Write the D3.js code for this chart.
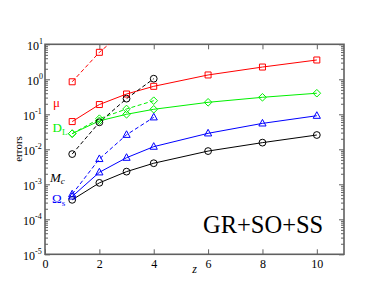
<!DOCTYPE html>
<html>
<head>
<meta charset="utf-8">
<script src="https://cdn.jsdelivr.net/npm/d3@7"></script>
<style>
	body { margin:0; background:#fff; }
</style>
</head>
<body>
<svg id="chart" width="387" height="299"></svg>
<script>

//------------------------------------------------------------------
// data
//------------------------------------------------------------------
var zFull   = [1, 2, 3, 4, 6, 8, 10],
		zShort  = [1, 2, 3, 4],
		zMuDash = [1, 2, 3];

var muSolid = [0.062, 0.19, 0.38, 0.63, 1.33, 2.24, 3.56],
		muDash  = [0.85, 5.9, 27],
		dlSolid = [0.028, 0.065, 0.10, 0.139, 0.22, 0.306, 0.40],
		dlDash  = [0.028, 0.075, 0.142, 0.245],
		mcSolid = [3.6e-4, 1.1e-3, 2.3e-3, 4.0e-3, 8.9e-3, 0.0155, 0.0256],
		mcDash  = [0.0073, 0.059, 0.28, 1.04],
		omSolid = [4.5e-4, 2.2e-3, 5.75e-3, 0.0119, 0.0286, 0.055, 0.091],
		omDash  = [5.2e-4, 5.3e-3, 0.026, 0.082];

var xTickVals = [0, 2, 4, 6, 8, 10],
		yExps     = [1, 0, -1, -2, -3, -4, -5];

var GREEN = '#00f000';

var series = [
	{ z:zMuDash, v:muDash,  color:'#ff0000', dash:true,  sym:'square'   },
	{ z:zFull,   v:muSolid, color:'#ff0000', dash:false, sym:'square'   },
	{ z:zShort,  v:dlDash,  color:GREEN,     dash:true,  sym:'diamond'  },
	{ z:zFull,   v:dlSolid, color:GREEN,     dash:false, sym:'diamond'  },
	{ z:zShort,  v:mcDash,  color:'#000000', dash:true,  sym:'circle'   },
	{ z:zFull,   v:mcSolid, color:'#000000', dash:false, sym:'circle'   },
	{ z:zShort,  v:omDash,  color:'#0000ff', dash:true,  sym:'triangle' },
	{ z:zFull,   v:omSolid, color:'#0000ff', dash:false, sym:'triangle' },
];

//------------------------------------------------------------------
// layout
//------------------------------------------------------------------
var m = { l:45, t:44.3, r:344, b:254.3 },
		x = d3.scaleLinear().domain([0, 11]).range([m.l, m.r]),
		y = d3.scaleLog().domain([1e-5, 10]).range([m.b, m.t]);

var FONT = 'Liberation Serif, Times New Roman, DejaVu Serif, serif';
var svg = d3.select('#chart').attr('font-family', FONT);
var frameCol = '#606060';

svg.append('defs').append('clipPath').attr('id','clip')
	.append('rect')
		.attr('x', m.l).attr('y', m.t)
		.attr('width', m.r - m.l).attr('height', m.b - m.t);

// minor y ticks
var minors = [];
yExps.slice(1).forEach(e=>{ for (var k=2;k<10;k++) minors.push(k*Math.pow(10,e)); });

function styleAxis(g)	{
	g.attr('font-family', FONT);
	g.select('.domain').remove();
	g.selectAll('.tick line').attr('stroke', frameCol).attr('stroke-width', 1);
}

svg.append('g').attr('transform','translate('+m.l+',0)')
	.call(d3.axisLeft(y).tickValues(minors).tickSize(-3).tickFormat(''))
	.call(styleAxis);
svg.append('g').attr('transform','translate('+m.r+',0)')
	.call(d3.axisRight(y).tickValues(minors).tickSize(-3).tickFormat(''))
	.call(styleAxis);
svg.append('g').attr('transform','translate('+m.r+',0)')
	.call(d3.axisRight(y).tickValues(yExps.map(e=>Math.pow(10,e))).tickSize(-5).tickFormat(''))
	.call(styleAxis);

// left major ticks with 10^n labels
svg.append('g').attr('transform','translate('+m.l+',0)')
	.call(d3.axisLeft(y).tickValues(yExps.map(e=>Math.pow(10,e))).tickSize(-5).tickFormat(''))
	.call(styleAxis)
	.call(g=>{
		g.selectAll('.tick').each(function(d){
			var e  = Math.round(Math.log10(d)),
					xx = e < 0 ? -10 : -6;
			d3.select(this).append('text')
				.attr('fill','#000').attr('text-anchor','end')
				.attr('font-family', FONT).attr('font-size', 12)
				.attr('x', xx).attr('y', 5)
				.text('10');
			d3.select(this).append('text')
				.attr('fill','#000').attr('text-anchor','start')
				.attr('font-family', FONT).attr('font-size', 8)
				.attr('x', xx).attr('y', -1)
				.text(e < 0 ? '-' + (-e) : e);
		});
	});

// x axes
svg.append('g').attr('transform','translate(0,'+m.b+')')
	.call(d3.axisBottom(x).tickValues(xTickVals).tickSize(-5).tickPadding(3).tickFormat(d3.format('d')))
	.call(styleAxis)
	.call(g=>g.selectAll('.tick text').attr('font-size',12).attr('fill','#000')
		.attr('font-family', FONT).attr('dy','0.9em'));
svg.append('g').attr('transform','translate(0,'+m.t+')')
	.call(d3.axisTop(x).tickValues(xTickVals).tickSize(-5).tickFormat(''))
	.call(styleAxis);

// frame
svg.append('rect')
	.attr('x', m.l).attr('y', m.t)
	.attr('width', m.r - m.l).attr('height', m.b - m.t)
	.attr('fill','none').attr('stroke', frameCol).attr('stroke-width', 1.6);

//------------------------------------------------------------------
// series
//------------------------------------------------------------------
var plot = svg.append('g').attr('clip-path','url(#clip)');
var line = d3.line().x(d=>x(d[0])).y(d=>y(d[1]));

series.forEach(s=>{
	var pts = s.z.map((z,i)=>[z, s.v[i]]);
	plot.append('path')
		.attr('d', line(pts))
		.attr('fill','none')
		.attr('stroke', s.color)
		.attr('stroke-width', 1)
		.attr('stroke-dasharray', s.dash ? '4,2.5' : null);
});

var symPath = {
	square:   'M-3,-3H3V3H-3Z',
	circle:   'M3.4,0A3.4,3.4,0,1,1,-3.4,0A3.4,3.4,0,1,1,3.4,0Z',
	diamond:  'M0,-3.8L3.8,0L0,3.8L-3.8,0Z',
	triangle: 'M0,-4L3.6,2.6L-3.6,2.6Z',
};

series.forEach(s=>{
	var pts = s.z.map((z,i)=>[z, s.v[i]]);
	plot.selectAll(null).data(pts).enter().append('path')
		.attr('transform', d=>'translate('+x(d[0])+','+y(d[1])+')')
		.attr('d', symPath[s.sym])
		.attr('fill','none')
		.attr('stroke', s.color)
		.attr('stroke-width', 1);
});

//------------------------------------------------------------------
// labels
//------------------------------------------------------------------
function lbl(xp, yp, col, main, sub, dy, italic)	{
	svg.append('text').attr('x',xp).attr('y',yp).attr('fill',col)
		.attr('font-family', FONT).attr('font-size',13)
		.attr('font-style', italic ? 'italic' : null)
		.call(t=>{
			t.append('tspan').text(main);
			if (sub) t.append('tspan').attr('font-size',9).attr('dy',dy).text(sub);
		});
}

lbl(53,   107, '#ff0000', '\u03bc');
lbl(52.5, 132, GREEN,     'D', 'L', 3);
lbl(50,   182, '#000000', 'M', 'c', 2, true);
lbl(52,   203, '#0000ff', '\u03a9', 's', 3);

svg.append('text')
	.attr('transform','translate(22,149) rotate(-90)')
	.attr('text-anchor','middle').attr('font-size',11).attr('fill','#000')
	.attr('font-family', FONT)
	.text('errors');

svg.append('text')
	.attr('x', x(5.5)).attr('y', 273)
	.attr('text-anchor','middle').attr('font-size',12).attr('font-style','italic').attr('fill','#000')
	.attr('font-family', FONT)
	.text('z');

svg.append('text')
	.attr('x', 203).attr('y', 233)
	.attr('font-family', FONT).attr('font-size', 24.5).attr('fill','#000')
	.text('GR+SO+SS');

</script>
</body>
</html>
